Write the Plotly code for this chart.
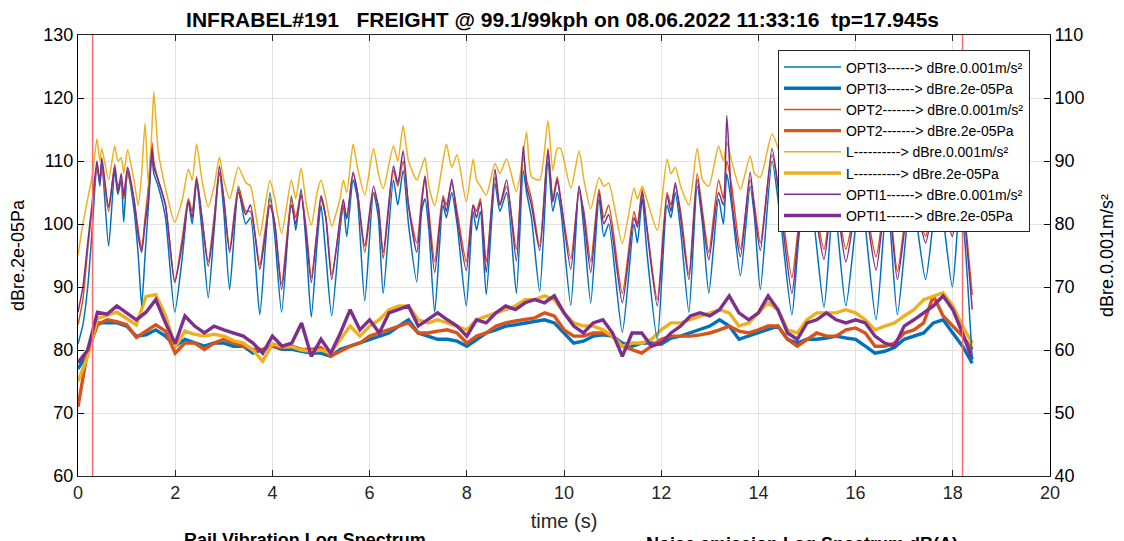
import plotly.graph_objects as go

# ---------------- data ----------------
TITLE = "INFRABEL#191   FREIGHT @ 99.1/99kph on 08.06.2022 11:33:16  tp=17.945s"

# key times for vibration (thin, right axis, dBre.0.001m/s²)
T_VIB = [0.00, 0.10, 0.20, 0.30, 0.39, 0.45, 0.49, 0.63, 0.755, 0.82,
         0.89, 0.94, 1.02, 1.15, 1.24, 1.31, 1.38, 1.45, 1.52, 1.56,
         1.65, 1.80, 1.99, 2.15, 2.27, 2.35, 2.44, 2.55, 2.68, 2.80,
         2.91, 3.00, 3.12, 3.30, 3.45, 3.55, 3.74, 3.85, 3.95, 4.05,
         4.19, 4.39, 4.48, 4.59, 4.70, 4.80, 4.92, 5.00, 5.10, 5.22,
         5.39, 5.46, 5.53, 5.66, 5.75, 5.90, 6.08, 6.18, 6.28, 6.49,
         6.58, 6.69, 6.80, 6.97, 7.07, 7.14, 7.22, 7.34, 7.51, 7.58,
         7.69, 7.80, 7.99, 8.13, 8.20, 8.28, 8.40, 8.58, 8.68, 8.82,
         9.02, 9.16, 9.23, 9.33, 9.50, 9.67, 9.77, 9.86, 9.93, 10.14,
         10.31, 10.41, 10.55, 10.72, 10.82, 10.92, 11.20, 11.44, 11.51, 11.61,
         11.70, 11.92, 12.12, 12.20, 12.29, 12.40, 12.57, 12.74, 12.85, 12.98,
         13.18, 13.28, 13.35, 13.45, 13.63, 13.83, 13.92, 14.04, 14.28, 14.45,
         14.69, 14.85, 15.05, 15.35, 15.55, 15.80, 16.10, 16.42, 16.65, 16.86,
         17.15, 17.44, 17.70, 17.99, 18.15, 18.25, 18.40]

VIB_OPTI1 = [66, 70, 77, 84, 90, 86.5, 90.5, 82.7, 89, 85,
             88, 84.5, 89, 84, 78, 75.5, 80, 84, 92, 89,
             87, 83, 70.7, 77, 83.6, 81, 87.1, 81, 73.3, 80,
             89.2, 84, 75.5, 85, 81.5, 83, 72.8, 78, 83, 80,
             69.6, 83, 80, 84.6, 78, 70.7, 79, 84.5, 81, 71.2,
             80.8, 83.9, 80.8, 88.2, 85, 76.5, 86, 82.5, 75.5, 89.2,
             86.5, 91.6, 83, 75.5, 83, 87.6, 81, 72.3, 84, 82,
             87.1, 81, 72.6, 83, 81, 83.5, 72.3, 88.7, 83, 87,
             74.1, 92.4, 86, 83, 75.8, 91.6, 83.5, 87, 84, 72.8,
             86, 81, 72.3, 85, 80, 81.5, 67.5, 81, 79.5, 85,
             79.5, 67, 84.5, 82, 86.6, 81, 71.2, 87.1, 81, 74.3,
             85, 83, 97.2, 84, 74.8, 88.2, 82, 75.8, 92, 83,
             69, 80, 86, 74.4, 86, 74, 86.5, 72.7, 86, 71.2,
             86, 77, 87, 78, 86, 80, 66.4]

VIB_OPTI3 = [61, 64, 70, 80, 89.5, 86, 90, 76.5, 88.5, 84.7,
             87, 80.3, 88.5, 82.4, 75, 67, 75, 83, 90.8, 88,
             86, 81, 66, 75, 83.5, 80, 86.6, 79, 68.3, 79,
             88.2, 82, 69.6, 85.5, 80, 81, 65.6, 76, 85, 78,
             66, 84.5, 79, 85.5, 76, 65.2, 77, 83, 75, 65.4,
             79, 83, 78, 87, 84, 67.8, 85, 81, 69, 87,
             83, 88.5, 80, 70.8, 82, 84, 79, 66, 83, 81,
             85, 80, 67, 82, 79, 82, 68.8, 86.5, 82, 85,
             69, 88.5, 85, 81, 69.3, 90, 82, 85, 82.5, 67.1,
             86, 79, 67.5, 84, 78, 80, 62.8, 80, 77, 84,
             76, 61.7, 83, 81, 85, 79, 66, 86, 80, 69,
             84, 80, 88, 83, 71.8, 86, 81, 69.6, 90, 81,
             65.6, 79, 85, 66.8, 84, 67, 85, 64.8, 84.5, 65.6,
             85, 71.2, 86, 70, 84, 77, 58.5]

VIB_OPT2 = [64, 68, 76, 83, 89, 87, 89, 82, 89.5, 86,
            87, 84, 88, 84, 79, 76, 81, 86, 93, 90,
            87, 83, 71, 78, 84, 82, 87.5, 81, 74, 81,
            88, 84, 76, 86, 82, 82, 73.5, 79, 84, 80,
            70.5, 84, 81, 85, 79, 71.5, 79, 84, 81, 72,
            80, 83, 81, 88, 85, 75.5, 85, 83, 74.5, 88.5,
            86, 90, 83, 77, 84, 87.5, 82, 74, 84.5, 83,
            86.5, 82, 74, 83, 82, 84, 74, 87.5, 83, 86,
            76, 91, 87, 84, 76.5, 92, 84, 87.5, 84, 74.5,
            85, 82, 74, 85.5, 81, 83, 69, 82, 80, 85.5,
            80, 68, 85, 83, 86, 82, 72, 88, 82, 75.5,
            87, 84, 90, 86, 76, 87, 83, 77, 91, 84,
            71.5, 81, 86.5, 76, 86, 76, 86.5, 74.8, 86, 72.5,
            87, 78, 87.5, 80, 87, 81, 68.7]

VIB_L = [75, 80, 84, 88, 93.5, 90, 92, 87, 92.4, 90,
         90.5, 88, 91.8, 87, 83, 88, 96, 86, 95, 101,
         91.6, 85.7, 80.3, 84, 88.7, 87, 92.7, 87, 82.7, 86,
         90.6, 87, 84, 89, 86.6, 86, 78.1, 83, 86.9, 84,
         78.5, 87, 84, 88.9, 83, 79.8, 85, 87, 84, 79.7,
         84, 87, 85, 92.7, 89, 84.6, 92, 88, 85.6, 92.4,
         90, 95.6, 90, 87, 89, 90.5, 86, 82.9, 90, 92.7,
         89, 91, 83.5, 90.3, 87, 86, 84.6, 89.6, 88, 90.3,
         85.1, 91, 94.6, 87.5, 87, 96.4, 88.5, 92, 92, 85.7,
         91.6, 87, 82.4, 87.4, 86, 86.5, 76.9, 85.7, 84, 86,
         84, 79, 90.3, 88, 89, 86, 83, 92, 87, 86,
         92.4, 90, 93, 90, 85.5, 90.8, 88, 87.4, 94.3, 91,
         84, 87, 90, 84.5, 90, 84, 90, 84, 91, 83,
         90, 85, 91, 86, 89, 84, 80.8]

# noise (thick, left axis, dBre.2e-05Pa) sampled every 0.2 s
T_NOISE = [round(i * 0.2, 1) for i in range(93)]

NOISE_OPTI1 = [78, 80, 86, 85.7, 87, 85.9, 84.8, 86, 88, 84.3,
               81, 85.4, 83.8, 82.7, 83.8, 83.2, 82.7, 82.2, 81.1, 79.5,
               82.2, 80.6, 81.1, 84.3, 79, 81.7, 79.5, 82.7, 86.4, 83.2,
               84.8, 82.7, 85.9, 86.4, 87, 83.8, 84.8, 85.9, 84.8, 83.8,
               82.2, 84.8, 84.3, 85.9, 87, 86.4, 87.5, 88, 87.5, 88.6,
               85.9, 83.8, 82.7, 84.3, 84.8, 82.7, 79, 82.7, 82.7, 80.6,
               81.1, 82.7, 83.8, 85.4, 85.9, 85.4, 86.4, 88.6, 85.9, 84.8,
               85.9, 88.6, 86.4, 82.7, 81.7, 84.3, 84.8, 85.9, 84.8, 84.3,
               84.8, 84.3, 82.2, 81.1, 80.6, 83.8, 84.8, 85.9, 87, 88.6,
               86.4, 82.7, 78.5]

NOISE_OPTI3 = [77, 79.5, 84.3, 84.3, 84.3, 83.8, 82.2, 82.4, 83.2, 82.2,
               80.6, 81.7, 81.1, 80.6, 81.1, 81.1, 80.6, 80.6, 79.5, 80.1,
               80.6, 80.1, 80.1, 79.8, 79.5, 79.5, 79, 80.1, 80.6, 81.1,
               81.7, 82.2, 82.7, 83.8, 84.8, 82.7, 82.2, 81.7, 81.7, 81.4,
               80.6, 81.7, 82.7, 83.2, 83.8, 84, 84.3, 84.6, 84.8, 84.3,
               82.7, 81.1, 81.4, 82.2, 82.4, 82.2, 81.1, 80.6, 81.1, 81.1,
               80.9, 81.9, 82.2, 82.7, 83.2, 83.8, 84.8, 83.8, 81.7, 82.2,
               82.7, 83.2, 83.8, 81.7, 81.1, 81.7, 81.7, 81.9, 82.2, 81.9,
               81.7, 80.6, 79.5, 79.8, 80.4, 81.7, 82.2, 82.7, 84.3, 84.8,
               82.7, 80.6, 77.9]

NOISE_OPT2 = [71, 80, 84, 84.8, 84.5, 84, 82, 83, 84, 83,
              79.5, 81.1, 81.1, 80.1, 81.1, 81.7, 81.1, 80.6, 80.1, 80.1,
              80.6, 80.4, 80.6, 80.1, 80.1, 80.4, 79, 79.8, 80.6, 81.1,
              82.2, 82.7, 83.2, 83.8, 84.3, 82.7, 82.7, 83, 83.2, 82.7,
              81.1, 82.2, 82.7, 83.8, 84.3, 84.6, 84.8, 85.1, 85.9, 85.4,
              83.2, 82.2, 82.2, 82.7, 82.7, 82.2, 80.6, 80.1, 79.5, 80.6,
              81.7, 82.2, 82.2, 82.2, 82.4, 82.7, 83.2, 83.8, 83, 82.7,
              83.2, 83.8, 83.8, 81.7, 80.6, 81.7, 82.7, 82.2, 82.2, 83.2,
              83.5, 82.7, 80.6, 80.6, 81.1, 82.7, 83.2, 84.3, 88.6, 85.4,
              83.8, 82.2, 80.1]

NOISE_L = [75, 79, 85, 85.5, 86, 85, 84, 88.5, 88.8, 85.5,
           80.5, 83, 82.5, 82.2, 82.5, 82.2, 81.5, 81.1, 80, 78.2,
           81, 80.5, 80.5, 80, 79.8, 80, 79.5, 81.7, 83.8, 82.2,
           83.8, 84.8, 86.4, 87, 87, 84.8, 84.3, 84.8, 84.3, 83.8,
           83.2, 84.8, 85.4, 85.9, 86.4, 87, 88, 88, 88.6, 88,
           85.9, 84.3, 83.8, 83.8, 83.2, 82.2, 80.6, 81.1, 81.1, 81.7,
           83.2, 84.3, 84.3, 84.8, 85.4, 85.9, 86.4, 85.9, 83.8, 84.3,
           85.9, 87.5, 86.4, 83.2, 82.7, 84.8, 85.9, 85.9, 85.9, 86.4,
           85.9, 84.8, 83.2, 83.8, 84.3, 85.4, 86.4, 88, 88.6, 89.1,
           87, 83.8, 81.1]

TRIGGER_TIMES = [0.3, 18.2]

X_TICKS = [0, 2, 4, 6, 8, 10, 12, 14, 16, 18, 20]
Y_LEFT_TICKS = [60, 70, 80, 90, 100, 110, 120, 130]
Y_RIGHT_TICKS = [40, 50, 60, 70, 80, 90, 100, 110]

# ---------------- style ----------------
C_BLUE = "#0072BD"
C_ORANGE = "#D95319"
C_YELLOW = "#EDB120"
C_PURPLE = "#7E2F8E"
FONT = "Liberation Sans, Arial, Helvetica, sans-serif"
AX = "#262626"

fig = go.Figure()

series = [
    ("OPTI3------> dBre.0.001m/s²", T_VIB, VIB_OPTI3, C_BLUE, 1.5, "y2", 1),
    ("OPT2-------> dBre.0.001m/s²", T_VIB, VIB_OPT2, C_ORANGE, 1.5, "y2", 3),
    ("L----------> dBre.0.001m/s²", T_VIB, VIB_L, C_YELLOW, 1.5, "y2", 5),
    ("OPTI1------> dBre.0.001m/s²", T_VIB, VIB_OPTI1, C_PURPLE, 1.5, "y2", 7),
    ("OPTI3------> dBre.2e-05Pa", T_NOISE, NOISE_OPTI3, C_BLUE, 3.4, "y", 2),
    ("OPT2-------> dBre.2e-05Pa", T_NOISE, NOISE_OPT2, C_ORANGE, 3.4, "y", 4),
    ("L----------> dBre.2e-05Pa", T_NOISE, NOISE_L, C_YELLOW, 3.4, "y", 6),
    ("OPTI1------> dBre.2e-05Pa", T_NOISE, NOISE_OPTI1, C_PURPLE, 3.4, "y", 8),
]
for name, xs, ys, col, w, ax, rank in series:
    shape = "spline" if ax == "y2" else "linear"
    fig.add_trace(go.Scatter(x=xs, y=ys, name=name, mode="lines", yaxis=ax,
                             line=dict(color=col, width=w, shape=shape, smoothing=0.6),
                             legendrank=rank, legendgroup=name))

for tt in TRIGGER_TIMES:
    fig.add_shape(type="line", xref="x", yref="paper", x0=tt, x1=tt, y0=0, y1=1,
                  line=dict(color="#FF6B6B", width=1.5), layer="above")

fig.update_layout(
    width=1124, height=541,
    margin=dict(l=69.5, r=82, t=26.5, b=73, autoexpand=False),
    paper_bgcolor="white", plot_bgcolor="white",
    font=dict(family=FONT, color=AX, size=18),
    title=dict(text=TITLE.replace(" ", "\u00a0"), xref="paper", x=0.4985, xanchor="center",
               y=0.979, yanchor="middle",
               font=dict(size=21, family=FONT, color="black", weight="bold")),
    xaxis=dict(range=[0, 20], tickvals=X_TICKS, ticks="inside", ticklen=6, tickcolor=AX,
               showline=True, linecolor=AX, linewidth=1, mirror="ticks",
               showgrid=True, gridcolor="#E3E3E3", gridwidth=1, zeroline=False,
               title=dict(text="time (s)", font=dict(size=20), standoff=12),
               tickfont=dict(size=18)),
    yaxis=dict(range=[60, 130], tickvals=Y_LEFT_TICKS, ticks="inside", ticklen=6, tickcolor="black",
               showline=True, linecolor="black", linewidth=1,
               showgrid=True, gridcolor="#E3E3E3", gridwidth=1, zeroline=False,
               title=dict(text="dBre.2e-05Pa", font=dict(size=18, color="black"), standoff=17),
               tickfont=dict(size=18, color="black")),
    yaxis2=dict(range=[40, 110], tickvals=Y_RIGHT_TICKS, overlaying="y", side="right",
                ticks="inside", ticklen=6, tickcolor="black",
                showline=True, linecolor="black", linewidth=1, showgrid=False, zeroline=False,
                title=dict(text="dBre.0.001m/s²", font=dict(size=18, color="black"), standoff=16),
                tickfont=dict(size=18, color="black")),
    legend=dict(x=0.9794, xanchor="right", y=0.965, yanchor="top",
                bgcolor="white", bordercolor=AX, borderwidth=1,
                font=dict(size=14, color="black", family=FONT), tracegroupgap=0,
                traceorder="grouped", itemwidth=57),
    showlegend=True,
)

fig.add_annotation(text="<b>Rail Vibration Log Spectrum</b>", xref="paper", yref="paper",
                   x=0.234, y=-0.118, xanchor="center", yanchor="top", showarrow=False,
                   font=dict(size=18, color="black"))
fig.add_annotation(text="<b>Noise emission Log Spectrum dB(A)</b>", xref="paper", yref="paper",
                   x=0.745, y=-0.127, xanchor="center", yanchor="top", showarrow=False,
                   font=dict(size=18, color="black"))

fig.write_html("out.html")
